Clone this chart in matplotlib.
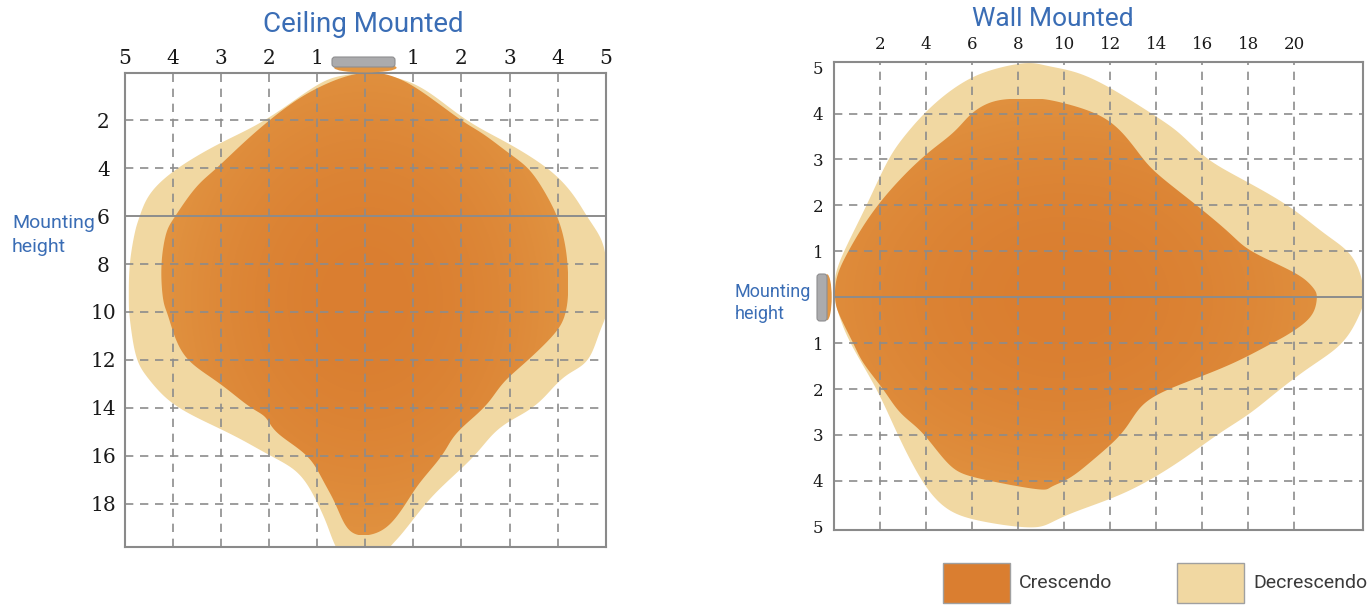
import numpy as np
import matplotlib
matplotlib.use("Agg")
import matplotlib.pyplot as plt
from matplotlib import font_manager
from matplotlib.patches import Polygon, Rectangle, Ellipse, FancyBboxPatch

# ---- data: coverage outlines (ceiling: x = width, y = depth below sensor)
CEIL_DEC_X = [0, 0.46, 1.19, 2.09, 2.99, 3.82, 4.31, 4.62, 4.93, 5.02, 5.05, 5.02, 4.86, 4.62,
              4.10, 3.54, 2.79, 2.29, 1.67, 1.25, 0.78, 0.51, 0.26, -0.37, -0.62, -0.78, -0.99,
              -1.37, -2.0, -2.83, -3.94, -4.49, -4.73, -4.84, -4.91, -4.92, -4.91, -4.80, -4.70,
              -4.49, -3.94, -3.04, -2.07, -0.99, -0.47]
CEIL_DEC_Y = [0, 0.13, 0.61, 2.0, 2.97, 4.03, 5.05, 6.05, 7.01, 8.06, 9.22, 10.09, 10.88, 12.11,
              12.71, 13.96, 14.79, 15.98, 17.14, 18.01, 19.22, 19.80, 20.35, 20.35, 19.80, 18.96, 18.0,
              16.72, 15.98, 15.05, 13.97, 12.84, 12.11, 11.18, 10.09, 9.51, 8.08, 6.71, 6.05,
              5.05, 4.03, 2.96, 2.0, 0.47, 0.13]
CEIL_CRE_X = [0, 0.46, 1.05, 1.99, 2.44, 2.99, 3.41, 3.75, 4.0, 4.14, 4.21, 4.22, 4.16, 3.96,
              3.33, 2.85, 2.50, 1.88, 1.61, 1.12, 0.84, 0.46, 0, -0.37, -0.62, -0.89, -1.20,
              -1.86, -2.07, -2.41, -3.03, -3.65, -3.94, -4.11, -4.21, -4.25, -4.15, -3.97, -3.53,
              -3.11, -2.55, -2.0, -1.45, -0.96, -0.47]
CEIL_CRE_Y = [0, 0.08, 0.61, 2.0, 2.54, 3.38, 4.03, 5.05, 6.05, 7.01, 8.06, 9.22, 10.09, 10.88,
              12.11, 12.97, 13.96, 15.05, 15.98, 17.14, 18.01, 19.0, 19.35, 19.1, 18.0, 17.01, 15.98,
              15.05, 14.37, 13.97, 12.97, 12.11, 11.18, 10.09, 9.51, 8.08, 6.71, 6.05, 4.78,
              4.03, 2.96, 2.0, 1.17, 0.61, 0.2]

# wall: x = distance out, y = lateral offset from mounting height
WALL_DEC_X = [0.04, 0.04, 0.43, 1.42, 2.36, 3.16, 3.96, 4.90, 6.06, 7.35, 8.52, 9.39, 11.13,
              13.74, 15.04, 16.20, 17.78, 19.74, 21.26, 22.35, 22.87, 23.04, 22.87, 22.13, 20.70,
              19.39, 18.09, 16.78, 15.33, 13.87, 12.29, 10.26, 9.39, 8.52, 6.06, 4.74, 3.74, 2.73,
              1.86, 0.70, 0.19]
WALL_DEC_Y = [0, 0.45, 1.0, 2.0, 3.01, 3.57, 4.02, 4.44, 4.81, 5.02, 5.11, 5.02, 4.81,
              4.02, 3.57, 3.01, 2.56, 2.0, 1.40, 1.0, 0.53, 0, -0.34, -1.0, -1.51,
              -2.0, -2.53, -2.95, -3.47, -3.94, -4.34, -4.71, -4.92, -5.03, -4.85, -4.56, -3.94, -2.95,
              -2.0, -1.0, -0.35]
WALL_CRE_X = [0.04, 0.12, 0.62, 1.86, 3.74, 5.19, 5.99, 7.07, 8.52, 9.39, 11.42, 12.57, 13.43,
              14.17, 15.77, 17.22, 18.09, 20.12, 20.83, 20.99, 20.77, 19.83, 19.04, 17.07, 14.52,
              13.30, 12.57, 11.26, 10.26, 9.39, 8.96, 6.20, 5.04, 3.88, 2.87, 2.14, 1.27, 0.84, 0.19]
WALL_CRE_Y = [0, 0.45, 1.0, 2.0, 3.01, 3.57, 4.02, 4.30, 4.32, 4.30, 4.01, 3.57, 3.01,
              2.63, 2.0, 1.39, 1.0, 0.52, 0.2, 0, -0.42, -0.78, -1.0, -1.51, -2.0,
              -2.38, -2.95, -3.54, -3.94, -4.13, -4.20, -3.94, -3.69, -2.95, -2.53, -2.0, -1.44, -1.0, -0.35]

CEIL_XTICKS = [-5, -4, -3, -2, -1, 0, 1, 2, 3, 4, 5]
CEIL_XLABELS = ["5", "4", "3", "2", "1", "", "1", "2", "3", "4", "5"]
CEIL_YTICKS = [2, 4, 6, 8, 10, 12, 14, 16, 18]
CEIL_MOUNT = 6
WALL_XTICKS = [2, 4, 6, 8, 10, 12, 14, 16, 18, 20]
WALL_YTICKS = [-5, -4, -3, -2, -1, 0, 1, 2, 3, 4, 5]
WALL_YLABELS = ["5", "4", "3", "2", "1", "", "1", "2", "3", "4", "5"]
LEGEND = ["Crescendo", "Decrescendo"]

ORANGE = "#DA7E30"
ORANGE_EDGE = "#E29643"
LIGHT = "#F1D8A2"
BLUE = "#3A6DB5"
GRID = "#8C8C8C"
W, H = 1372, 605

names = {f.name for f in font_manager.fontManager.ttflist}
NARROW = "Liberation Sans Narrow" if "Liberation Sans Narrow" in names else "Roboto"
DIGITS = "DejaVu Serif"


def smooth_closed(xs, ys, n=16, win=17):
    # closed Catmull-Rom through the traced points, then a light periodic moving average
    p = np.column_stack([xs, ys]).astype(float)
    m = len(p)
    t = np.linspace(0, 1, n, endpoint=False)[:, None]
    out = []
    for i in range(m):
        p0, p1, p2, p3 = p[(i - 1) % m], p[i], p[(i + 1) % m], p[(i + 2) % m]
        out.append(0.5 * (2 * p1 + (-p0 + p2) * t + (2 * p0 - 5 * p1 + 4 * p2 - p3) * t ** 2
                          + (-p0 + 3 * p1 - 3 * p2 + p3) * t ** 3))
    c = np.vstack(out)
    k = np.ones(win) / win
    h = win // 2
    res = []
    for j in range(2):
        padded = np.concatenate([c[-h:, j], c[:, j], c[:h, j]])
        res.append(np.convolve(padded, k, mode="valid"))
    return np.column_stack(res)


def gradient_fill(ax, xy, center, scale):
    x0, x1 = xy[:, 0].min(), xy[:, 0].max()
    y0, y1 = xy[:, 1].min(), xy[:, 1].max()
    X, Y = np.meshgrid(np.linspace(x0, x1, 300), np.linspace(y0, y1, 300))
    r = np.clip(np.hypot((X - center[0]) / scale[0], (Y - center[1]) / scale[1]), 0, 1) ** 2
    c_in = np.array(matplotlib.colors.to_rgb(ORANGE))
    c_out = np.array(matplotlib.colors.to_rgb(ORANGE_EDGE))
    img = (1 - r)[..., None] * c_in + r[..., None] * c_out
    im = ax.imshow(img, extent=(x0, x1, y0, y1), origin="lower", aspect="auto",
                   zorder=2, interpolation="bilinear")
    poly = Polygon(xy, closed=True, facecolor="none", edgecolor="none")
    ax.add_patch(poly)
    im.set_clip_path(poly)


def style_axes(ax):
    for s in ax.spines.values():
        s.set_color("#8A8A8A")
        s.set_linewidth(1.5)
        s.set_zorder(5)
    ax.tick_params(length=0)


def fx(x):
    return x / W


def fy(y):
    return 1 - y / H


fig = plt.figure(figsize=(W / 100, H / 100), dpi=100)

# ---------------- Ceiling mounted ----------------
ax1 = fig.add_axes([fx(125), fy(546.7), (605.7 - 125) / W, (546.7 - 72.5) / H])
dec = smooth_closed(CEIL_DEC_X, CEIL_DEC_Y)
cre = smooth_closed(CEIL_CRE_X, CEIL_CRE_Y)
ax1.add_patch(Polygon(dec, closed=True, facecolor=LIGHT, edgecolor="none", zorder=1))
gradient_fill(ax1, cre, center=(0, 9.5), scale=(4.6, 11))
for x in range(-4, 5):
    ax1.axvline(x, color=GRID, lw=1.2, ls=(0, (5, 4)), zorder=3)
for y in CEIL_YTICKS:
    if y != CEIL_MOUNT:
        ax1.axhline(y, color=GRID, lw=1.2, ls=(0, (5, 4)), zorder=3)
ax1.axhline(CEIL_MOUNT, color=GRID, lw=1.4, zorder=3)
ax1.set_xlim(-5, 5)
ax1.set_ylim(19.8, 0)
ax1.xaxis.tick_top()
ax1.set_xticks(CEIL_XTICKS)
ax1.set_xticklabels(CEIL_XLABELS, fontfamily=DIGITS, fontsize=14.5, color="#1A1A1A")
ax1.set_yticks(CEIL_YTICKS)
ax1.set_yticklabels([str(v) for v in CEIL_YTICKS], fontfamily=DIGITS, fontsize=14.5,
                    color="#1A1A1A", ha="center")
style_axes(ax1)
ax1.tick_params(axis="x", pad=3)
ax1.tick_params(axis="y", pad=15.5)
# sensor on the ceiling
ax1.add_patch(Ellipse((0, -0.2), 1.3, 0.4, facecolor=ORANGE_EDGE, edgecolor="none",
                      clip_on=False, zorder=6))
fig.patches.append(FancyBboxPatch((3.32, (H - 67) / 100), 0.63, 0.1,
                                  boxstyle="round,pad=0,rounding_size=0.03",
                                  transform=fig.dpi_scale_trans, facecolor="#ABABAD",
                                  edgecolor="#8E8E90", lw=0.8, zorder=7))

fig.text(fx(363), fy(24), "Ceiling Mounted", ha="center", va="center", color=BLUE,
         fontsize=20, fontfamily=NARROW)
fig.text(fx(12), fy(235), "Mounting\nheight", ha="left", va="center", color=BLUE,
         fontsize=14, fontfamily=NARROW, linespacing=1.4)

# ---------------- Wall mounted ----------------
ax2 = fig.add_axes([fx(834), fy(530), (1363.3 - 834) / W, (530 - 61.7) / H])
dec = smooth_closed(WALL_DEC_X, WALL_DEC_Y)
cre = smooth_closed(WALL_CRE_X, WALL_CRE_Y)
ax2.add_patch(Polygon(dec, closed=True, facecolor=LIGHT, edgecolor="none", zorder=1))
gradient_fill(ax2, cre, center=(10, 0), scale=(13, 5))
for x in WALL_XTICKS:
    ax2.axvline(x, color=GRID, lw=1.2, ls=(0, (5, 4)), zorder=3)
for y in range(-4, 5):
    if y != 0:
        ax2.axhline(y, color=GRID, lw=1.2, ls=(0, (5, 4)), zorder=3)
ax2.axhline(0, color=GRID, lw=1.4, zorder=3)
ax2.set_xlim(0, 23.0)
ax2.set_ylim(-5.07, 5.13)
ax2.xaxis.tick_top()
ax2.set_xticks(WALL_XTICKS)
ax2.set_xticklabels([str(v) for v in WALL_XTICKS], fontfamily=DIGITS, fontsize=12,
                    color="#1A1A1A")
ax2.set_yticks(WALL_YTICKS)
ax2.set_yticklabels(WALL_YLABELS, fontfamily=DIGITS, fontsize=12, color="#1A1A1A", ha="center")
style_axes(ax2)
ax2.tick_params(axis="x", pad=6)
ax2.tick_params(axis="y", pad=11.5)
# sensor on the wall
ax2.add_patch(Ellipse((-0.3, 0), 0.4, 1.0, facecolor=ORANGE_EDGE, edgecolor="none",
                      clip_on=False, zorder=6))
fig.patches.append(FancyBboxPatch((8.17, (H - 321) / 100), 0.1, 0.47,
                                  boxstyle="round,pad=0,rounding_size=0.03",
                                  transform=fig.dpi_scale_trans, facecolor="#ABABAD",
                                  edgecolor="#8E8E90", lw=0.8, zorder=7))

fig.text(fx(1053), fy(19), "Wall Mounted", ha="center", va="center", color=BLUE,
         fontsize=19, fontfamily=NARROW)
fig.text(fx(735), fy(303), "Mounting\nheight", ha="left", va="center", color=BLUE,
         fontsize=13, fontfamily=NARROW, linespacing=1.35)

# ---------------- legend ----------------
for label, color, x0 in zip(LEGEND, [ORANGE, LIGHT], [943, 1177]):
    fig.patches.append(Rectangle((fx(x0), fy(603)), 67 / W, 40 / H, transform=fig.transFigure,
                                 facecolor=color, edgecolor="#A0A0A0", lw=1))
    fig.text(fx(x0 + 76), fy(583), label, ha="left", va="center", color="#3A3A3A",
             fontsize=14, fontfamily=NARROW)

fig.savefig("out.png", dpi=100)
